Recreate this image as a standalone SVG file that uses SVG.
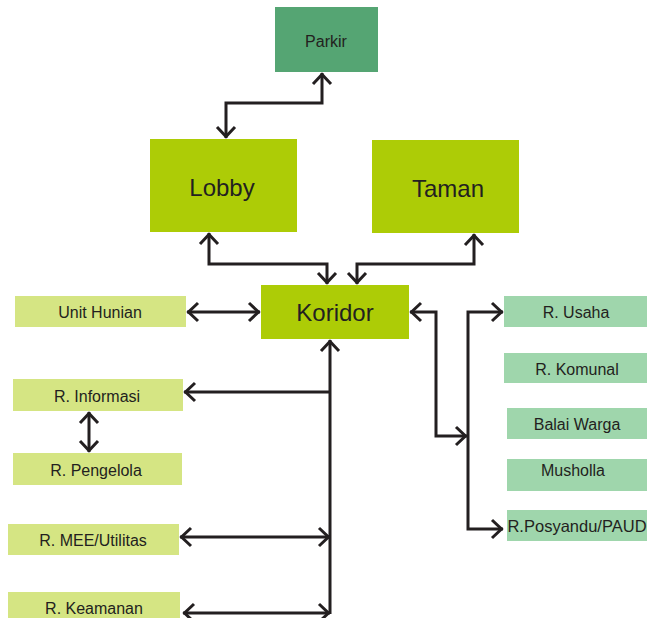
<svg xmlns="http://www.w3.org/2000/svg" width="647" height="618" viewBox="0 0 647 618">
<style>
.t{font-family:"Liberation Sans",Arial,sans-serif;fill:#231f20;text-anchor:middle;dominant-baseline:central}
.s{font-size:16px}
.b{font-size:24px}
.main{fill:#adcc06}
.lite{fill:#d5e583}
.teal{fill:#9fd6ac}
.con path{fill:none;stroke:#231f20;stroke-width:3}
</style>
<defs>
<marker id="ah" viewBox="-14 -12 16 24" refX="0" refY="0" markerWidth="16" markerHeight="24" markerUnits="userSpaceOnUse" orient="auto-start-reverse">
<path d="M-11,-9 L-1.5,0 L-11,9" fill="none" stroke="#231f20" stroke-width="3"/>
</marker>
</defs>
<rect width="647" height="618" fill="#fff"/>
<g id="parkir"><rect x="275" y="7" width="103" height="65" fill="#55a573"/><text class="t" x="326" y="41" font-size="16">Parkir</text></g>
<g id="lobby"><rect class="main" x="150" y="139" width="147" height="93"/><text class="t b" x="222" y="187">Lobby</text></g>
<g id="taman"><rect class="main" x="372" y="140" width="147" height="93"/><text class="t b" x="448" y="188">Taman</text></g>
<g id="koridor"><rect class="main" x="261" y="285" width="148" height="54"/><text class="t b" x="335" y="312">Koridor</text></g>
<g id="unit-hunian"><rect class="lite" x="15" y="296" width="171" height="31"/><text class="t s" x="100" y="312">Unit Hunian</text></g>
<g id="r-informasi"><rect class="lite" x="13" y="379" width="170" height="32"/><text class="t s" x="97" y="396">R. Informasi</text></g>
<g id="r-pengelola"><rect class="lite" x="13" y="453" width="169" height="32"/><text class="t s" x="96" y="470">R. Pengelola</text></g>
<g id="r-mee"><rect class="lite" x="8" y="524" width="171" height="31"/><text class="t s" x="93" y="540">R. MEE/Utilitas</text></g>
<g id="r-keamanan"><rect class="lite" x="8" y="592" width="172" height="30"/><text class="t s" x="94" y="608">R. Keamanan</text></g>
<g id="r-usaha"><rect class="teal" x="504" y="296" width="145" height="31"/><text class="t s" x="576" y="312">R. Usaha</text></g>
<g id="r-komunal"><rect class="teal" x="504" y="353" width="145" height="30"/><text class="t s" x="577" y="369">R. Komunal</text></g>
<g id="balai-warga"><rect class="teal" x="507" y="408" width="142" height="31"/><text class="t s" x="577" y="424">Balai Warga</text></g>
<g id="musholla"><rect class="teal" x="507" y="459" width="142" height="32"/><text class="t s" x="573" y="470">Musholla</text></g>
<g id="r-posyandu"><rect class="teal" x="507" y="510" width="142" height="31"/><text class="t" x="577" y="526" font-size="16.5">R.Posyandu/PAUD</text></g>
<g class="con" id="connectors">
<path d="M322,73 V103 H226 V138" marker-start="url(#ah)" marker-end="url(#ah)"/>
<path d="M209,233 V264 H327 V284" marker-start="url(#ah)" marker-end="url(#ah)"/>
<path d="M474,234 V264 H357 V284" marker-start="url(#ah)" marker-end="url(#ah)"/>
<path d="M187,312 H260" marker-start="url(#ah)" marker-end="url(#ah)"/>
<path d="M330,340 V614" marker-start="url(#ah)"/>
<path d="M330,392 H184" marker-end="url(#ah)"/>
<path d="M89,412 V452" marker-start="url(#ah)" marker-end="url(#ah)"/>
<path d="M180,537 H330" marker-start="url(#ah)" marker-end="url(#ah)"/>
<path d="M183,613 H330" marker-start="url(#ah)" marker-end="url(#ah)"/>
<path d="M410,312 H436 V436 H467" marker-start="url(#ah)" marker-end="url(#ah)"/>
<path d="M503,312 H468 V529 H503" marker-start="url(#ah)" marker-end="url(#ah)"/>
</g>
</svg>
